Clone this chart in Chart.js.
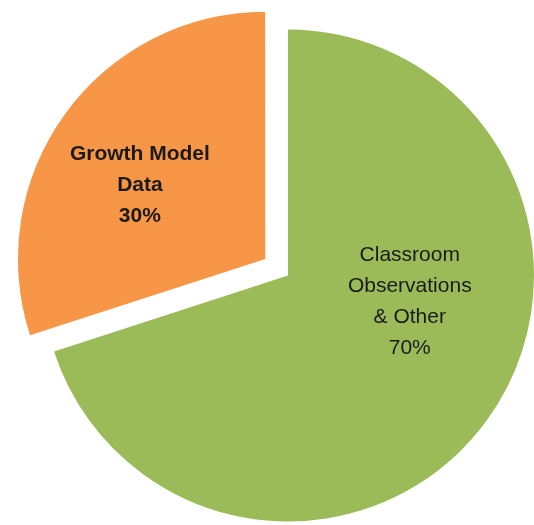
<!DOCTYPE html>
<html>
<head>
<meta charset="utf-8">
<script src="https://cdn.jsdelivr.net/npm/chart.js@4/dist/chart.umd.min.js"></script>
<style>
  html, body { margin: 0; padding: 0; background: #ffffff; }
  #c { display: block; }
</style>
</head>
<body>
<canvas id="c" width="534" height="525"></canvas>
<script>
// Data
const categories = ["Classroom Observations & Other", "Growth Model Data"];
const values = [70, 30];
const labelLines = [
  ["Classroom", "Observations", "& Other"],
  ["Growth Model", "Data"]
];
const colors = ["#9BBB59", "#F79646"];

// Label placement relative to each arc's centre, in units of its radius
const labelStyle = [
  { dx: 0.495, dy: 0.105, bold: false, size: 21, lineH: 31 },
  { dx: -0.51, dy: -0.30, bold: true, size: 21, lineH: 31 }
];

const sliceLabels = {
  id: 'sliceLabels',
  afterDatasetsDraw(chart) {
    const ctx = chart.ctx;
    const meta = chart.getDatasetMeta(0);
    const total = values.reduce((a, b) => a + b, 0);
    meta.data.forEach((arc, i) => {
      const st = labelStyle[i];
      const mid = (arc.startAngle + arc.endAngle) / 2;
      const off = (arc.options.offset || 0) / 4;
      const cx = arc.x + Math.cos(mid) * off;
      const cy = arc.y + Math.sin(mid) * off;
      const r = arc.outerRadius;
      const x = cx + st.dx * r;
      const y = cy + st.dy * r;
      const lines = labelLines[i].concat([Math.round(values[i] / total * 100) + "%"]);
      ctx.save();
      ctx.fillStyle = "#1a1a1a";
      ctx.textAlign = "center";
      ctx.textBaseline = "middle";
      ctx.font = (st.bold ? "bold " : "") + st.size + "px 'Liberation Sans', Arial, sans-serif";
      const h = (lines.length - 1) * st.lineH;
      lines.forEach((t, k) => {
        ctx.fillText(t, x, y - h / 2 + k * st.lineH);
      });
      ctx.restore();
    });
  }
};

new Chart(document.getElementById('c'), {
  type: 'pie',
  data: {
    labels: categories,
    datasets: [{
      data: values,
      backgroundColor: colors,
      borderWidth: 0,
      offset: [0, 112],
      hoverOffset: 0
    }]
  },
  options: {
    responsive: false,
    animation: false,
    radius: 246,
    layout: { padding: { left: 42, right: 0, top: 26, bottom: 0 } },
    plugins: {
      legend: { display: false },
      tooltip: { enabled: false }
    }
  },
  plugins: [sliceLabels]
});
</script>
</body>
</html>
